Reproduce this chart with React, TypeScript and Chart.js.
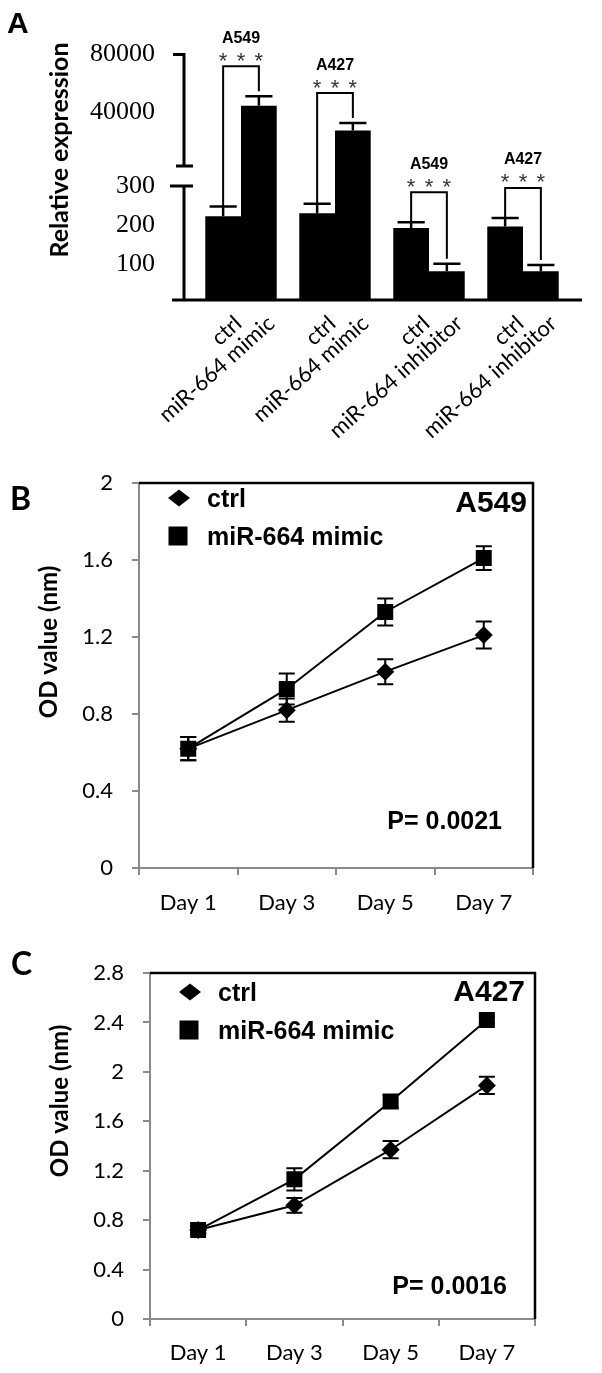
import React, { useEffect, useRef } from 'react';
import { Chart, registerables, LinearScale } from 'chart.js';

Chart.register(...registerables);

// ---------------- Panel A data ----------------
const A_GROUPS = ['A549 mimic', 'A427 mimic', 'A549 inhibitor', 'A427 inhibitor'];
const A_CELL_LINES = ['A549', 'A427', 'A549', 'A427'];
const A_CTRL_LABELS = ['ctrl', 'ctrl', 'ctrl', 'ctrl'];
const A_TREAT_LABELS = ['miR-664 mimic', 'miR-664 mimic', 'miR-664 inhibitor', 'miR-664 inhibitor'];
const A_CTRL = [223, 231, 193, 197];
const A_CTRL_ERR = [25, 24, 15, 22];
const A_TREAT = [44450, 27200, 83, 83];
const A_TREAT_ERR = [6500, 5100, 19, 16];
const A_SIG = ['***', '***', '***', '***'];
const A_TICKS = [100, 200, 300, 40000, 80000];
const A_MIN = 10;

// axis break definition (value space)
const BREAK_LOW = 300;
const BREAK_HIGH = 2400;
const BREAK_GAP = 51;
const UPPER_FACTOR = 0.003656;

// ---------------- Panels B / C data ----------------
const DAYS = ['Day 1', 'Day 3', 'Day 5', 'Day 7'];
const SERIES_NAMES = ['ctrl', 'miR-664 mimic'];
const B_CTRL = [0.62, 0.82, 1.02, 1.21];
const B_CTRL_ERR = [0.06, 0.06, 0.065, 0.07];
const B_MIMIC = [0.62, 0.93, 1.33, 1.61];
const B_MIMIC_ERR = [0.06, 0.08, 0.07, 0.062];
const B_MAX = 2;
const C_CTRL = [0.72, 0.92, 1.37, 1.89];
const C_CTRL_ERR = [0.03, 0.06, 0.07, 0.07];
const C_MIMIC = [0.72, 1.13, 1.76, 2.42];
const C_MIMIC_ERR = [0.03, 0.09, 0.05, 0.03];
const C_MAX = 2.8;
const OD_STEP = 0.4;

function toT(v: number): number {
  if (v <= BREAK_LOW) return v;
  if (v >= BREAK_HIGH) return BREAK_LOW + BREAK_GAP + (v - BREAK_HIGH) * UPPER_FACTOR;
  return BREAK_LOW + (BREAK_GAP * (v - BREAK_LOW)) / (BREAK_HIGH - BREAK_LOW);
}
function fromT(t: number): number {
  if (t <= BREAK_LOW) return t;
  if (t >= BREAK_LOW + BREAK_GAP) return BREAK_HIGH + (t - BREAK_LOW - BREAK_GAP) / UPPER_FACTOR;
  return BREAK_LOW + ((t - BREAK_LOW) * (BREAK_HIGH - BREAK_LOW)) / BREAK_GAP;
}

class BrokenLinearScale extends (LinearScale as any) {
  static id = 'brokenLinear';
  static defaults = (LinearScale as any).defaults;
  getPixelForValue(value: any) {
    if (value === null || value === undefined || isNaN(value)) return NaN;
    return super.getPixelForValue(toT(value));
  }
  getValueForPixel(pixel: number) {
    return fromT(super.getValueForPixel(pixel));
  }
}
Chart.register(BrokenLinearScale as any);

const SANS = '"Liberation Sans", Arial, sans-serif';
const LATO = 'Lato, "Open Sans", sans-serif';

const panelAPlugin = {
  id: 'panelA',
  afterDraw(chart: any) {
    const { ctx, chartArea: ca } = chart;
    const ys = chart.scales.y;
    const m0 = chart.getDatasetMeta(0);
    const m1 = chart.getDatasetMeta(1);
    const axisX = ca.left - 10;
    ctx.save();
    ctx.strokeStyle = '#000';
    ctx.fillStyle = '#000';

    const cTops = A_CTRL.map((v, i) => ys.getPixelForValue(v + A_CTRL_ERR[i]));
    const tTops = A_TREAT.map((v, i) => ys.getPixelForValue(v + A_TREAT_ERR[i]));

    // error bars
    ctx.lineWidth = 2.5;
    ([[m0, cTops], [m1, tTops]] as any[]).forEach(([meta, tops]) => {
      meta.data.forEach((el: any, i: number) => {
        const hw = el.width * 0.38;
        ctx.beginPath();
        ctx.moveTo(el.x, el.y);
        ctx.lineTo(el.x, tops[i]);
        ctx.moveTo(el.x - hw, tops[i]);
        ctx.lineTo(el.x + hw, tops[i]);
        ctx.stroke();
      });
    });

    // broken y axis + x axis
    ctx.lineWidth = 3;
    const yTop = ys.getPixelForValue(A_TICKS[A_TICKS.length - 1]);
    const yHi = ys.getPixelForValue(BREAK_HIGH);
    const yLo = ys.getPixelForValue(BREAK_LOW);
    ctx.beginPath();
    ctx.moveTo(axisX, yTop);
    ctx.lineTo(axisX, yHi);
    ctx.moveTo(axisX, yLo);
    ctx.lineTo(axisX, ca.bottom);
    ctx.moveTo(axisX - 11, yTop);
    ctx.lineTo(axisX + 1.5, yTop);
    ctx.moveTo(axisX - 8, yHi);
    ctx.lineTo(axisX + 9, yHi);
    ctx.moveTo(axisX - 14, yLo);
    ctx.lineTo(axisX + 9, yLo);
    ctx.moveTo(axisX - 12, ca.bottom);
    ctx.lineTo(ca.right + 12, ca.bottom);
    ctx.stroke();

    // significance brackets
    A_GROUPS.forEach((_, i) => {
      const c = m0.data[i];
      const t = m1.data[i];
      const by = Math.min(cTops[i], tTops[i]) - 30;
      ctx.lineWidth = 2;
      ctx.beginPath();
      ctx.moveTo(c.x, cTops[i]);
      ctx.lineTo(c.x, by);
      ctx.lineTo(t.x, by);
      ctx.lineTo(t.x, tTops[i] - 5);
      ctx.stroke();
      // stars
      const sy = by - 11;
      const n = A_SIG[i].length;
      ctx.font = '22px ' + SANS;
      ctx.fillStyle = '#333';
      ctx.textAlign = 'center';
      ctx.textBaseline = 'alphabetic';
      for (let k = 0; k < n; k++) {
        const x = c.x + ((t.x - c.x) * k) / (n - 1);
        ctx.fillText(A_SIG[i][k], x, sy + 12.5);
      }
      // cell line label
      ctx.fillStyle = '#000';
      ctx.font = 'bold 16px ' + SANS;
      ctx.textBaseline = 'middle';
      ctx.fillText(A_CELL_LINES[i], (c.x + t.x) / 2, sy - 17);
    });

    // rotated category labels
    ctx.font = '22px ' + LATO;
    ctx.fillStyle = '#000';
    A_GROUPS.forEach((_, i) => {
      const cx = (m0.data[i].x + m1.data[i].x) / 2;
      ctx.save();
      ctx.translate(cx - 10, ca.bottom + 12);
      ctx.rotate((-42 * Math.PI) / 180);
      ctx.textAlign = 'right';
      ctx.textBaseline = 'top';
      ctx.fillText(A_CTRL_LABELS[i], 0, 0);
      ctx.fillText(A_TREAT_LABELS[i], 24.5, 22);
      ctx.restore();
    });

    // y title
    ctx.save();
    ctx.translate(59.5, 150);
    ctx.rotate(-Math.PI / 2);
    ctx.font = 'bold 25px ' + LATO;
    ctx.textAlign = 'center';
    ctx.textBaseline = 'middle';
    ctx.fillText('Relative expression', 0, 0);
    ctx.restore();

    // panel letter
    ctx.font = 'bold 30px ' + SANS;
    ctx.textAlign = 'left';
    ctx.textBaseline = 'alphabetic';
    ctx.fillText('A', 7, 33);
    ctx.restore();
  },
};

function makeBarChart(canvas: HTMLCanvasElement) {
  return new Chart(canvas, {
    type: 'bar',
    data: {
      labels: A_GROUPS,
      datasets: [
        { label: 'ctrl', data: A_CTRL, backgroundColor: '#000', borderWidth: 0, barPercentage: 1, categoryPercentage: 0.76 },
        { label: 'miR-664', data: A_TREAT, backgroundColor: '#000', borderWidth: 0, barPercentage: 1, categoryPercentage: 0.76 },
      ],
    },
    options: {
      responsive: false,
      animation: false,
      devicePixelRatio: 1,
      events: [],
      layout: { padding: { left: 0, right: 32, top: 22, bottom: 150 } },
      plugins: { legend: { display: false }, tooltip: { enabled: false } },
      scales: {
        x: { display: false, offset: true },
        y: {
          type: 'brokenLinear',
          min: A_MIN,
          max: toT(A_TICKS[A_TICKS.length - 1]),
          afterBuildTicks: (s: any) => {
            s.ticks = A_TICKS.map((v) => ({ value: v }));
          },
          afterFit: (s: any) => {
            s.width = 194;
          },
          grid: { display: false, drawTicks: false },
          border: { display: false },
          ticks: {
            autoSkip: false,
            padding: 39,
            color: '#000',
            font: { family: '"Liberation Serif", "Times New Roman", serif', size: 26 },
            callback: (v: any) => String(v),
          },
        } as any,
      },
    },
    plugins: [panelAPlugin],
  } as any);
}

function diamond(ctx: any, x: number, y: number, hw: number, hh: number) {
  ctx.beginPath();
  ctx.moveTo(x - hw, y);
  ctx.lineTo(x, y - hh);
  ctx.lineTo(x + hw, y);
  ctx.lineTo(x, y + hh);
  ctx.closePath();
  ctx.fill();
}

function makeLinePlugin(p: any) {
  return {
    id: 'odPanel',
    beforeDatasetsDraw(chart: any) {
      const { ctx } = chart;
      const ys = chart.scales.y;
      const sets = [
        [p.ctrl, p.ctrlErr],
        [p.mimic, p.mimicErr],
      ];
      ctx.save();
      ctx.strokeStyle = '#000';
      ctx.lineWidth = 2;
      sets.forEach(([vals, errs]: any, d: number) => {
        chart.getDatasetMeta(d).data.forEach((pt: any, i: number) => {
          const t = ys.getPixelForValue(vals[i] + errs[i]);
          const b = ys.getPixelForValue(vals[i] - errs[i]);
          ctx.beginPath();
          ctx.moveTo(pt.x, t);
          ctx.lineTo(pt.x, b);
          ctx.moveTo(pt.x - 8, t);
          ctx.lineTo(pt.x + 8, t);
          ctx.moveTo(pt.x - 8, b);
          ctx.lineTo(pt.x + 8, b);
          ctx.stroke();
        });
      });
      ctx.restore();
    },
    afterDraw(chart: any) {
      const { ctx, chartArea: ca } = chart;
      ctx.save();
      // black frame top & right
      ctx.strokeStyle = '#000';
      ctx.lineWidth = 2.5;
      ctx.beginPath();
      ctx.moveTo(ca.left, ca.top);
      ctx.lineTo(ca.right, ca.top);
      ctx.lineTo(ca.right, ca.bottom);
      ctx.stroke();
      // legend
      ctx.fillStyle = '#000';
      diamond(ctx, ca.left + 40, ca.top + p.legRow1, 11, 8.5);
      ctx.fillRect(ca.left + 39 - 9.5, ca.top + p.legRow2 - 9.5, 19, 19);
      ctx.font = 'bold 25px ' + SANS;
      ctx.textAlign = 'left';
      ctx.textBaseline = 'middle';
      ctx.fillText(SERIES_NAMES[0], ca.left + 68, ca.top + p.legRow1 + 2);
      ctx.fillText(SERIES_NAMES[1], ca.left + 68, ca.top + p.legRow2 + 2);
      // cell line
      ctx.font = 'bold 30px ' + SANS;
      ctx.textAlign = 'right';
      ctx.fillText(p.cell, ca.right - p.cellDx, ca.top + p.cellDy);
      // p value
      ctx.font = 'bold 25px ' + SANS;
      ctx.fillText(p.pText, ca.right - p.pDx, ca.bottom - p.pDy);
      // y title
      ctx.save();
      ctx.translate(p.titleX, p.titleY);
      ctx.rotate(-Math.PI / 2);
      ctx.font = 'bold 24px ' + LATO;
      ctx.textAlign = 'center';
      ctx.fillText('OD value (nm)', 0, 0);
      ctx.restore();
      // panel letter
      ctx.font = 'bold 32px ' + LATO;
      ctx.textAlign = 'left';
      ctx.textBaseline = 'alphabetic';
      ctx.fillText(p.letter, p.letterX, p.letterY);
      ctx.restore();
    },
  };
}

function makeLineChart(canvas: HTMLCanvasElement, p: any) {
  const gray = '#8a8a8a';
  return new Chart(canvas, {
    type: 'line',
    data: {
      labels: DAYS,
      datasets: [
        {
          label: SERIES_NAMES[0],
          data: p.ctrl,
          borderColor: '#000',
          borderWidth: 2,
          pointStyle: 'rectRot',
          pointRadius: 9,
          pointBackgroundColor: '#000',
          pointBorderColor: '#000',
          pointBorderWidth: 0,
          tension: 0,
        },
        {
          label: SERIES_NAMES[1],
          data: p.mimic,
          borderColor: '#000',
          borderWidth: 2,
          pointStyle: 'rect',
          pointRadius: 11.3,
          pointBackgroundColor: '#000',
          pointBorderColor: '#000',
          pointBorderWidth: 0,
          tension: 0,
        },
      ],
    },
    options: {
      responsive: false,
      animation: false,
      devicePixelRatio: 1,
      events: [],
      layout: { padding: { left: 0, right: p.padRight, top: p.padTop, bottom: 0 } },
      plugins: { legend: { display: false }, tooltip: { enabled: false } },
      scales: {
        x: {
          offset: true,
          grid: { offset: true, drawOnChartArea: false, tickLength: 7, color: gray, lineWidth: 2 },
          border: { color: gray, width: 2 },
          ticks: { font: { family: LATO, size: 22 }, color: '#000', padding: p.xPad, maxRotation: 0 },
          afterFit: (s: any) => {
            s.height = p.xHeight;
          },
        },
        y: {
          min: 0,
          max: p.max,
          grid: { drawOnChartArea: false, tickLength: 7, color: gray, lineWidth: 2 },
          border: { color: gray, width: 2 },
          ticks: {
            stepSize: OD_STEP,
            font: { family: LATO, size: 22 },
            color: '#000',
            padding: 19,
            callback: (v: any) => String(Math.round(Number(v) * 10) / 10),
          },
          afterFit: (s: any) => {
            s.width = p.yWidth;
          },
        },
      },
    },
    plugins: [makeLinePlugin(p)],
  } as any);
}

const B_PANEL = {
  ctrl: B_CTRL, ctrlErr: B_CTRL_ERR, mimic: B_MIMIC, mimicErr: B_MIMIC_ERR, max: B_MAX,
  cell: 'A549', pText: 'P= 0.0021', letter: 'B',
  padRight: 69, padTop: 33, xHeight: 72, yWidth: 139, xPad: 15,
  legRow1: 15, legRow2: 53, cellDx: 6, cellDy: 21, pDx: 31, pDy: 46,
  titleX: 49, titleY: 192, letterX: 10, letterY: 60,
};
const C_PANEL = {
  ctrl: C_CTRL, ctrlErr: C_CTRL_ERR, mimic: C_MIMIC, mimicErr: C_MIMIC_ERR, max: C_MAX,
  cell: 'A427', pText: 'P= 0.0016', letter: 'C',
  padRight: 67, padTop: 33, xHeight: 54, yWidth: 150, xPad: 14,
  legRow1: 19, legRow2: 57, cellDx: 10, cellDy: 20, pDx: 28, pDy: 32,
  titleX: 60, titleY: 161, letterX: 11, letterY: 35,
};

export default function App() {
  const aRef = useRef<HTMLCanvasElement>(null);
  const bRef = useRef<HTMLCanvasElement>(null);
  const cRef = useRef<HTMLCanvasElement>(null);
  useEffect(() => {
    const charts = [
      makeBarChart(aRef.current as HTMLCanvasElement),
      makeLineChart(bRef.current as HTMLCanvasElement, B_PANEL),
      makeLineChart(cRef.current as HTMLCanvasElement, C_PANEL),
    ];
    return () => charts.forEach((c) => c.destroy());
  }, []);
  return (
    <div style={{ position: 'absolute', left: 0, top: 0, width: 602, height: 1373, background: '#fff' }}>
      <canvas ref={aRef} width={602} height={450} style={{ position: 'absolute', left: 0, top: 0 }} />
      <canvas ref={bRef} width={602} height={490} style={{ position: 'absolute', left: 0, top: 450 }} />
      <canvas ref={cRef} width={602} height={433} style={{ position: 'absolute', left: 0, top: 940 }} />
    </div>
  );
}
